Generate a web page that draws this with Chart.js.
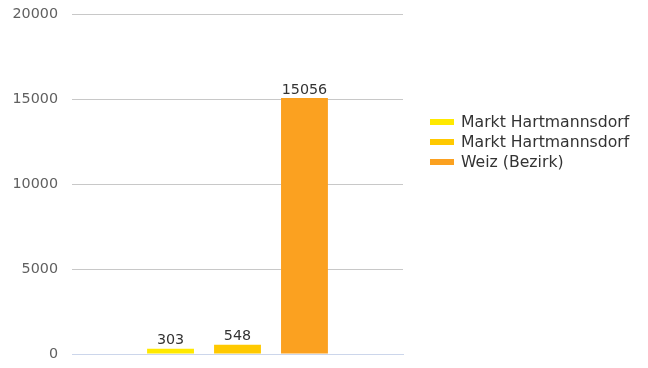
<!DOCTYPE html>
<html>
<head>
<meta charset="utf-8">
<script src="https://cdn.jsdelivr.net/npm/chart.js@4"></script>
<style>
  html, body { margin: 0; padding: 0; background: #fff; }
  #wrap { width: 648px; height: 368px; position: relative; }
</style>
</head>
<body>
<div id="wrap"><canvas id="chart"></canvas></div>
<script>
const seriesNames = ["Markt Hartmannsdorf", "Markt Hartmannsdorf", "Weiz (Bezirk)"];
const seriesValues = [303, 548, 15056];
const seriesColors = ["#ffe900", "#ffc900", "#fba120"];
const yTicks = [0, 5000, 10000, 15000, 20000];

const FONT = "'DejaVu Sans', sans-serif";

// value above each bar
const valueLabels = {
  id: "valueLabels",
  afterDatasetsDraw(chart) {
    const ctx = chart.ctx;
    ctx.save();
    ctx.font = "14.3px " + FONT;
    ctx.fillStyle = "#333";
    ctx.textAlign = "center";
    ctx.textBaseline = "bottom";
    chart.data.datasets.forEach((ds, i) => {
      chart.getDatasetMeta(i).data.forEach((bar, j) => {
        ctx.fillText(String(ds.data[j]), bar.x, bar.y - 1);
      });
    });
    ctx.restore();
  }
};

// legend on the right, line-shaped swatches
const sideLegend = {
  id: "sideLegend",
  afterDraw(chart) {
    const ctx = chart.ctx;
    ctx.save();
    ctx.font = "15.7px " + FONT;
    ctx.textBaseline = "middle";
    chart.data.datasets.forEach((ds, i) => {
      const y = 122 + i * 20;
      ctx.fillStyle = ds.backgroundColor;
      ctx.fillRect(430, y - 3, 24, 6);
      ctx.fillStyle = "#333";
      ctx.fillText(ds.label, 461, y + 1);
    });
    ctx.restore();
  }
};

new Chart(document.getElementById("chart"), {
  type: "bar",
  data: {
    labels: [""],
    datasets: seriesNames.map((name, i) => ({
      label: name,
      data: [seriesValues[i]],
      backgroundColor: seriesColors[i],
      categoryPercentage: 0.607,
      barPercentage: 0.70
    }))
  },
  options: {
    responsive: true,
    maintainAspectRatio: false,
    animation: false,
    layout: { padding: { top: 14, bottom: 14, left: 0, right: 245 } },
    plugins: {
      legend: { display: false },
      tooltip: { enabled: false }
    },
    scales: {
      x: {
        ticks: { display: false },
        grid: { display: false, drawTicks: false },
        border: { display: true, color: "#ccd6eb", width: 1 },
        afterFit: s => { s.height = 0; s.paddingLeft = 0; s.paddingRight = 0; }
      },
      y: {
        min: 0,
        max: 20000,
        afterBuildTicks: s => { s.ticks = yTicks.map(v => ({ value: v })); },
        ticks: {
          color: "#606060",
          font: { family: FONT, size: 14.3 },
          padding: 14,
          callback: v => String(v)
        },
        grid: { color: "#c8c8c8", drawTicks: false },
        border: { display: false },
        afterFit: s => { s.width = 72; s.paddingTop = 0; s.paddingBottom = 0; }
      }
    }
  },
  plugins: [valueLabels, sideLegend]
});
</script>
</body>
</html>
